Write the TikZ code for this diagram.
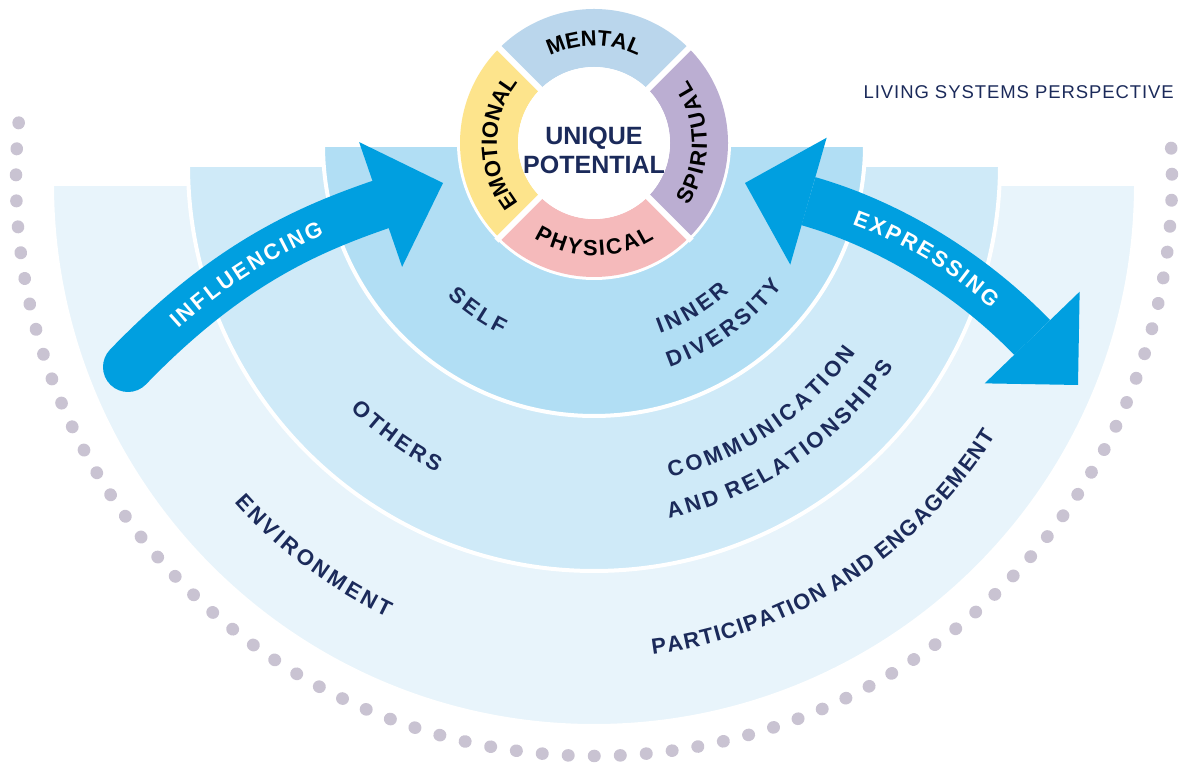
\documentclass[tikz,border=0pt]{standalone}
\usepackage{fontspec}
\setmainfont{Liberation Sans}
\newfontfamily\titlefont{Liberation Sans}[LetterSpace=5]
\usetikzlibrary{arrows.meta,decorations.text}

\definecolor{navy}{HTML}{1B2A5A}
\definecolor{sky}{HTML}{009FE0}
\definecolor{outerband}{HTML}{E8F4FB}
\definecolor{midband}{HTML}{CFEAF8}
\definecolor{innerband}{HTML}{B1DEF4}
\definecolor{mental}{HTML}{BAD6EC}
\definecolor{spiritual}{HTML}{BBAED2}
\definecolor{physical}{HTML}{F5BABB}
\definecolor{emotional}{HTML}{FDE48C}
\definecolor{dotgrey}{HTML}{C9C3D2}

% fonts for the curved labels, and the gaps put after each letter
\newcommand\bandfont{\bfseries\fontsize{22}{26}\selectfont}
\newcommand\ringfont{\bfseries\fontsize{22}{26}\selectfont}
\newcommand\trk{\kern.12em}
\newcommand\trs{\kern.045em}
\newcommand\trr{\kern.05em}

\tikzset{
  head/.tip={Triangle[length=66pt, width=132pt, line width=0pt]},
  band/.style={draw=white, line width=4},
  flow/.style={draw=sky, line width=50},
  flowtext/.style={decorate, decoration={text along path, text color=white, text align=center, raise=-7.9pt}},
  bandtext/.style={decorate, decoration={text along path, text color=navy, text align=center, raise=-7.9pt}},
  ringtext/.style={decorate, decoration={text along path, text color=black, text align=center, raise=-7.9pt}},
}

\begin{document}
\begin{tikzpicture}[x=1pt, y=1pt]
    \useasboundingbox (0,0) rectangle (1182,765);

    % centres of the half discs, the ring and the dotted rim
    \coordinate (outer) at (594,581);
    \coordinate (middle) at (594,600);
    \coordinate (inner) at (594,620);
    \coordinate (ring) at (594,622);
    \coordinate (rim) at (594,587);

    % dotted rim
    \draw [dotgrey, line width=12.5, line cap=round, dash pattern=on 0.5pt off 25.54pt]
        ([shift={(174.5:578)}]rim) arc[start angle=174.5, end angle=365.5, radius=578];

    % the three half discs
    \filldraw [band, fill=outerband] ([shift={(180:542)}]outer) arc[start angle=180, end angle=360, radius=542] -- cycle;
    \filldraw [band, fill=midband] ([shift={(180:406)}]middle) arc[start angle=180, end angle=360, radius=406] -- cycle;
    \filldraw [band, fill=innerband] ([shift={(180:271)}]inner) arc[start angle=180, end angle=360, radius=271] -- cycle;

    % labels of the half discs
    \path [bandtext, decoration={text={|\bandfont|{S\trk}{E\trk}{L\trk}F}}]
        ([shift={(200:203)}]inner) arc[start angle=200, end angle=270, radius=203];
    \path [bandtext, decoration={text={|\bandfont|{I\trk}{N\trk}{N\trk}{E\trk}R}}]
        ([shift={(-94:192)}]inner) arc[start angle=-94, end angle=-24, radius=192];
    \path [bandtext, decoration={text={|\bandfont|{D\trk}{I\trk}{V\trk}{E\trk}{R\trk}{S\trk}{I\trk}{T\trk}Y}}]
        ([shift={(-89:227)}]inner) arc[start angle=-89, end angle=-19, radius=227];
    \path [bandtext, decoration={text={|\bandfont|{O\trk}{T\trk}{H\trk}{E\trk}{R\trk}S}}]
        ([shift={(209:337)}]middle) arc[start angle=209, end angle=259, radius=337];
    \path [bandtext, decoration={text={|\bandfont|{C\trk}{O\trk}{M\trk}{M\trk}{U\trk}{N\trk}{I\trk}{C\trk}{A\trk}{T\trk}{I\trk}{O\trk}N}}]
        ([shift={(-91:314)}]middle) arc[start angle=-91, end angle=-21, radius=314];
    \path [bandtext, decoration={text={|\bandfont|{A\trk}{N\trk}{D\trk\ }{R\trk}{E\trk}{L\trk}{A\trk}{T\trk}{I\trk}{O\trk}{N\trk}{S\trk}{H\trk}{I\trk}{P\trk}S}}]
        ([shift={(-91:353)}]middle) arc[start angle=-91, end angle=-21, radius=353];
    \path [bandtext, decoration={text={|\bandfont|{E\trk}{N\trk}{V\trk}{I\trk}{R\trk}{O\trk}{N\trk}{M\trk}{E\trk}{N\trk}T}}]
        ([shift={(208:472)}]outer) arc[start angle=208, end angle=258, radius=472];
    \path [bandtext, decoration={text={|\bandfont|{P\trs}{A\trs}{R\trs}{T\trs}{I\trs}{C\trs}{I\trs}{P\trs}{A\trs}{T\trs}{I\trs}{O\trs}{N\trs\ }{A\trs}{N\trs}{D\trs\ }{E\trs}{N\trs}{G\trs}{A\trs}{G\trs}{E\trs}{M\trs}{E\trs}{N\trs}T}}]
        ([shift={(-97.5:466)}]outer) arc[start angle=-97.5, end angle=-17.5, radius=466];

    % influencing arrow
    \coordinate (inftail) at (128,398);
    \coordinate (infbase) at (380,560);
    \coordinate (inftip) at (443,582);
    \draw [flow, line cap=round, -head] (inftail) to[out=46, in=199] (inftip);
    \path [flowtext, decoration={text={|\bandfont|{I\trk}{N\trk}{F\trk}{L\trk}{U\trk}{E\trk}{N\trk}{C\trk}{I\trk}{N\trk}G}}]
        (inftail) to[out=46, in=199] (infbase);

    % expressing arrow, both ways
    \coordinate (exptip) at (745,582);
    \coordinate (expbase) at (808,563);
    \coordinate (expend) at (1032,428);
    \coordinate (exphead) at (1078,380);
    \draw [flow, head-head] (exptip) to[out=-16, in=134] (exphead);
    \path [flowtext, decoration={text={|\bandfont|{E\trk}{X\trk}{P\trk}{R\trk}{E\trk}{S\trk}{S\trk}{I\trk}{N\trk}G}}]
        (expbase) to[out=-16, in=134] (expend);

    % ring round the centre
    \fill [white] (ring) circle[radius=137];
    \fill [mental] ([shift={(45:134)}]ring) arc[start angle=45, end angle=135, radius=134]
        -- ([shift={(135:76)}]ring) arc[start angle=135, end angle=45, radius=76] -- cycle;
    \fill [emotional] ([shift={(135:134)}]ring) arc[start angle=135, end angle=225, radius=134]
        -- ([shift={(225:76)}]ring) arc[start angle=225, end angle=135, radius=76] -- cycle;
    \fill [physical] ([shift={(225:134)}]ring) arc[start angle=225, end angle=315, radius=134]
        -- ([shift={(315:76)}]ring) arc[start angle=315, end angle=225, radius=76] -- cycle;
    \fill [spiritual] ([shift={(315:134)}]ring) arc[start angle=315, end angle=405, radius=134]
        -- ([shift={(45:76)}]ring) arc[start angle=405, end angle=315, radius=76] -- cycle;
    \draw [white, line width=6] ([shift={(45:138)}]ring) -- ([shift={(225:138)}]ring);
    \draw [white, line width=6] ([shift={(135:138)}]ring) -- ([shift={(315:138)}]ring);
    \fill [white] (ring) circle[radius=76];

    \path [ringtext, decoration={text={|\ringfont|{M\trr}{E\trr}{N\trr}{T\trr}{A\trr}L}}]
        ([shift={(150:105)}]ring) arc[start angle=150, end angle=30, radius=105];
    \path [ringtext, decoration={text={|\ringfont|{E\trr}{M\trr}{O\trr}{T\trr}{I\trr}{O\trr}{N\trr}{A\trr}L}}]
        ([shift={(240:105)}]ring) arc[start angle=240, end angle=120, radius=105];
    \path [ringtext, decoration={text={|\ringfont|{S\trr}{P\trr}{I\trr}{R\trr}{I\trr}{T\trr}{U\trr}{A\trr}L}}]
        ([shift={(-60:105)}]ring) arc[start angle=-60, end angle=60, radius=105];
    \path [ringtext, decoration={text={|\ringfont|{P\trr}{H\trr}{Y\trr}{S\trr}{I\trr}{C\trr}{A\trr}L}}]
        ([shift={(210:105)}]ring) arc[start angle=210, end angle=330, radius=105];

    \node [text=navy, font=\bfseries\fontsize{25}{29}\selectfont, align=center] (potential) at (594,615) {UNIQUE\\POTENTIAL};

    \node [anchor=base east, inner sep=0, text=navy, font=\titlefont\fontsize{18.5}{22}\selectfont] (title) at (1174,666) {LIVING SYSTEMS PERSPECTIVE};
\end{tikzpicture}
\end{document}
